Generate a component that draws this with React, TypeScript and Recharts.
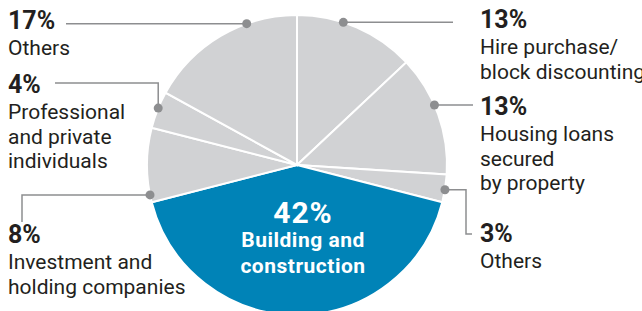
import React from 'react';
import { PieChart, Pie, Cell } from 'recharts';

// loan shares by sector, clockwise from 12 o'clock
const shares = [13, 13, 3, 42, 8, 4, 17];
const sectorLabels = [
  ['Hire purchase/', 'block discounting'],
  ['Housing loans', 'secured', 'by property'],
  ['Others'],
  ['Building and', 'construction'],
  ['Investment and', 'holding companies'],
  ['Professional', 'and private', 'individuals'],
  ['Others'],
];
const highlight = [false, false, false, true, false, false, false];

const data = shares.map((v, i) => ({ name: sectorLabels[i].join(' '), value: v }));

const GREY = '#d1d2d4';
const BLUE = '#0083b7';
const LEADER = '#8d8e90';
const INK = '#231f20';
const FONT = 'Roboto, "Noto Sans", sans-serif';
const RADIAN = Math.PI / 180;

// where each label sits; null in a path point means "same as the dot"
const layout: any[] = [
  { angle: 72, path: [[453, null]], tx: 480, ty: 28 },
  { angle: 23.6, path: [[473, null]], tx: 480, ty: 115 },
  { angle: -9.5, path: [[466, null], [466, 234], [472, 234]], tx: 480, ty: 242 },
  { inside: true, tx: 303, ty: 223 },
  { angle: 191.5, path: [[22, null], [22, 222]], tx: 8, ty: 243 },
  { angle: 157.7, path: [[null, 83], [55, 83]], tx: 8, ty: 93 },
  { angle: 109.6, path: [[66, null]], tx: 8, ty: 29 },
];

const renderLabel = (props: any) => {
  const { cx, cy, outerRadius, index } = props;
  const lay = layout[index];
  const lines = sectorLabels[index];
  const pct = `${shares[index]}%`;

  if (lay.inside) {
    return (
      <g key={`lbl-${index}`}>
        <text x={lay.tx} y={lay.ty} textAnchor="middle" fill="#fff" fontFamily={FONT} fontWeight={700} fontSize={30} letterSpacing={1}>
          {pct}
        </text>
        {lines.map((l: string, i: number) => (
          <text key={i} x={lay.tx} y={lay.ty + 24 + i * 26} textAnchor="middle" fill="#fff" fontFamily={FONT} fontWeight={700} fontSize={21} letterSpacing={0.5}>
            {l}
          </text>
        ))}
      </g>
    );
  }

  const dx = cx + outerRadius * Math.cos(-lay.angle * RADIAN);
  const dy = cy + outerRadius * Math.sin(-lay.angle * RADIAN);
  const pts = [[dx, dy], ...lay.path.map((p: any[]) => [p[0] ?? dx, p[1] ?? dy])];

  return (
    <g key={`lbl-${index}`}>
      <polyline points={pts.map(p => p.join(',')).join(' ')} fill="none" stroke={LEADER} strokeWidth={1.5} />
      <circle cx={dx} cy={dy} r={4.5} fill={LEADER} />
      <text x={lay.tx} y={lay.ty} fill={INK} fontFamily={FONT} fontWeight={700} fontSize={25}>
        {pct}
      </text>
      {lines.map((l: string, i: number) => (
        <text key={i} x={lay.tx} y={lay.ty + 26 + i * 24.5} fill={INK} fontFamily={FONT} fontSize={21}>
          {l}
        </text>
      ))}
    </g>
  );
};

const App: React.FC = () => {
  return (
    <div style={{ position: 'absolute', left: 0, top: 0, width: 642, height: 311, overflow: 'hidden', background: '#fff' }}>
      <PieChart width={642} height={311} margin={{ top: 0, right: 0, bottom: 0, left: 0 }}>
        <Pie
          data={data}
          dataKey="value"
          cx={297}
          cy={165}
          outerRadius={150}
          startAngle={90}
          endAngle={-270}
          stroke="#fff"
          strokeWidth={2}
          label={renderLabel}
          labelLine={false}
          isAnimationActive={false}
        >
          {data.map((d, i) => (
            <Cell key={`cell-${i}`} fill={highlight[i] ? BLUE : GREY} />
          ))}
        </Pie>
      </PieChart>
    </div>
  );
};

export default App;
